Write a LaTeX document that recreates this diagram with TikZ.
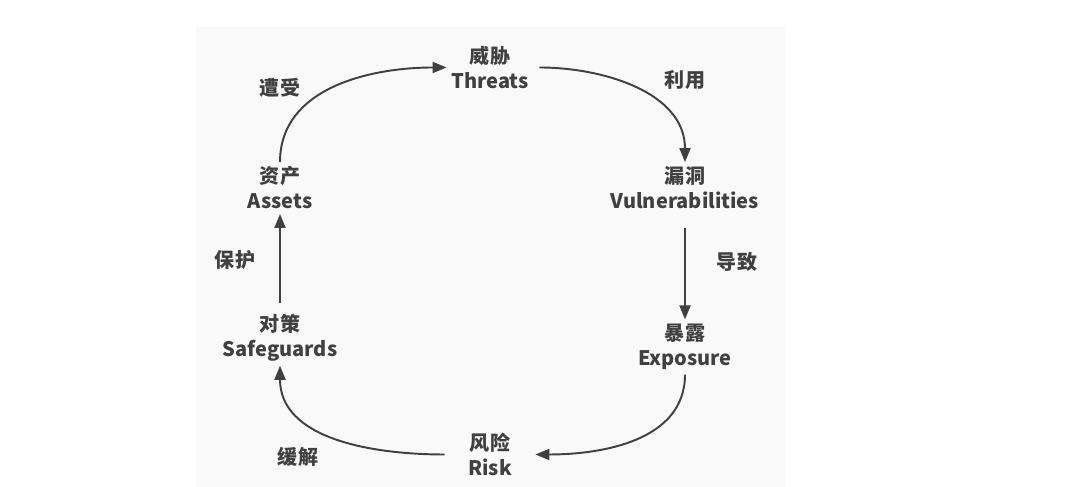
\documentclass[tikz,border=0pt]{standalone}
\usepackage{fontspec}
\setmainfont{Noto Sans CJK SC}
\usepackage{tikz}
\usetikzlibrary{arrows.meta,positioning}
\definecolor{panelgray}{RGB}{249,249,249}
\definecolor{inkgray}{RGB}{64,64,64}

\begin{document}
\begin{tikzpicture}[>={Triangle[length=2.8mm,width=2.2mm]},
  stage/.style={align=center,inner sep=2.5pt,text=inkgray,
    font={\fontsize{11.4}{14.2}\selectfont\bfseries}},
  verb/.style={inner sep=1pt,text=inkgray,
    font={\fontsize{11.4}{14.2}\selectfont\bfseries}},
  flow/.style={->,line width=1.1pt,draw=inkgray}]
  \useasboundingbox (0,0) rectangle (21.6,9.74);
  \fill[panelgray] (3.92,0) rectangle (15.7,9.2);

  % the six stages of the loop
  \node[stage] (threats)    at (9.8,8.39)  {威胁\\Threats};
  \node[stage] (vuln)       at (13.7,5.98) {漏洞\\Vulnerabilities};
  \node[stage] (exposure)   at (13.7,2.8)  {暴露\\Exposure};
  \node[stage,minimum width=1.8cm] (risk) at (9.8,0.65) {风险\\Risk};
  \node[stage] (safeguards) at (5.6,2.99)  {对策\\Safeguards};
  \node[stage] (assets)     at (5.6,5.98)  {资产\\Assets};

  % arrows between stages
  \draw[flow] (assets.north) to[out=90,in=180] (threats.west);
  \draw[flow,shorten <=0.12cm] (threats.east) to[out=0,in=90] (vuln.north);
  \draw[flow,shorten <=0.28cm] (vuln.south) -- (exposure.north);
  \draw[flow] (exposure.south) to[out=-90,in=0] (risk.east);
  \draw[flow] (risk.west) to[out=180,in=-90] (safeguards.south);
  \draw[flow,shorten <=0.12cm] (safeguards.north) -- (assets.south);

  % verbs on the arrows
  \node[verb] (suffer)   at (5.6,7.98)  {遭受};
  \node[verb] (exploit)  at (13.7,8.14) {利用};
  \node[verb] (leadto)   at (14.74,4.5) {导致};
  \node[verb] (mitigate) at (5.96,0.6)  {缓解};
  \node[verb] (protect)  at (4.7,4.54)  {保护};
\end{tikzpicture}
\end{document}
